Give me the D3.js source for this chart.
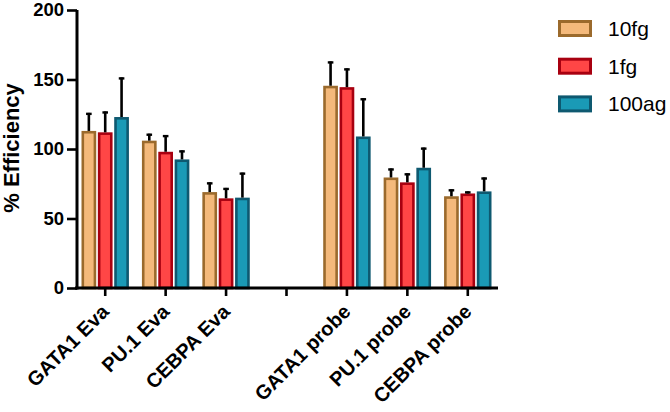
<!DOCTYPE html>
<html>
<head>
<meta charset="utf-8">
<script src="https://cdn.jsdelivr.net/npm/d3@7"></script>
<style>
  html, body { margin: 0; padding: 0; background: #fff; }
  svg { display: block; }
</style>
</head>
<body>
<svg id="chart" width="670" height="412"></svg>
<script>
const categories = ["GATA1 Eva", "PU.1 Eva", "CEBPA Eva", "", "GATA1 probe", "PU.1 probe", "CEBPA probe"];
const seriesNames = ["10fg", "1fg", "100ag"];
const mean10fg = [113, 106, 69, null, 145.5, 79.5, 66];
const err10fg  = [13, 5, 7, null, 17.5, 6.5, 5];
const mean1fg  = [112, 98, 64.5, null, 144.5, 76, 68];
const err1fg   = [15, 12, 7.5, null, 13.5, 6.5, 1.5];
const mean100ag = [123, 92.5, 65, null, 109, 86.5, 69.5];
const err100ag  = [28.5, 6.5, 18, null, 27.5, 14.5, 10];
const yTicks = [0, 50, 100, 150, 200];
const fills = ["#F4B97B", "#FF4646", "#1A9AB6"];
const strokes = ["#9B6A2C", "#A80010", "#0E5970"];

const means = [mean10fg, mean1fg, mean100ag];
const errs = [err10fg, err1fg, err100ag];

const svg = d3.select("#chart");
const font = "'Liberation Sans', Arial, sans-serif";

const x = d3.scaleBand().domain(categories).range([75, 498]).padding(0);
const y = d3.scaleLinear().domain([0, 200]).range([288, 10]);
const xs = d3.scaleBand().domain(seriesNames).range([6.5, x.bandwidth() - 6.5]).paddingInner(0.1);

// bars
const bw = 2.6;
seriesNames.forEach((s, si) => {
  const g = svg.append("g");
  categories.forEach((c, ci) => {
    const v = means[si][ci];
    if (v == null) return;
    const x0 = x(c) + xs(s);
    const w = xs.bandwidth();
    g.append("rect")
      .attr("x", x0 + bw / 2).attr("y", y(v) + bw / 2)
      .attr("width", w - bw).attr("height", y(0) - y(v) - bw / 2)
      .attr("fill", fills[si]).attr("stroke", strokes[si]).attr("stroke-width", bw);
    const e = errs[si][ci];
    const cx = x0 + w / 2;
    g.append("line")
      .attr("x1", cx).attr("x2", cx)
      .attr("y1", y(v)).attr("y2", y(v + e))
      .attr("stroke", "#000").attr("stroke-width", 2.6);
    g.append("line")
      .attr("x1", cx - 2.8).attr("x2", cx + 2.8)
      .attr("y1", y(v + e) + 1).attr("y2", y(v + e) + 1)
      .attr("stroke", "#000").attr("stroke-width", 2.4);
  });
});

// y axis
const yAxis = svg.append("g").attr("transform", "translate(77,0)")
  .call(d3.axisLeft(y).tickValues(yTicks).tickSize(10).tickPadding(3).tickFormat(d3.format("d")));
yAxis.select(".domain").attr("d", `M0,${y(200)}V${y(0) + 1.5}`).attr("stroke", "#000").attr("stroke-width", 3);
yAxis.selectAll(".tick line").attr("stroke", "#000").attr("stroke-width", 2.6);
yAxis.selectAll(".tick text").attr("font-family", font).attr("font-weight", "bold")
  .attr("font-size", "18.5px").attr("fill", "#000");

// x axis
const xAxis = svg.append("g").attr("transform", `translate(0,${y(0)})`)
  .call(d3.axisBottom(x).tickSize(8).tickPadding(4));
xAxis.select(".domain").attr("d", `M75,0H498`).attr("stroke", "#000").attr("stroke-width", 3);
xAxis.selectAll(".tick line").attr("stroke", "#000").attr("stroke-width", 2.6);
xAxis.selectAll(".tick text")
  .attr("font-family", font).attr("font-weight", "bold").attr("font-size", "20px").attr("fill", "#000")
  .attr("text-anchor", "end").attr("dy", "0").attr("y", 0)
  .attr("transform", "translate(5,25) rotate(-45)");

// y title
svg.append("text")
  .attr("transform", "translate(19,148) rotate(-90)")
  .attr("text-anchor", "middle")
  .attr("font-family", font).attr("font-weight", "bold").attr("font-size", "22px")
  .text("% Efficiency");

// legend
const leg = svg.append("g");
seriesNames.forEach((s, i) => {
  const cy = 28.5 + i * 37.7;
  leg.append("rect")
    .attr("x", 559.5).attr("y", cy - 7).attr("width", 31).attr("height", 14)
    .attr("fill", fills[i]).attr("stroke", strokes[i]).attr("stroke-width", 3);
  leg.append("text")
    .attr("x", 608).attr("y", cy + 7.5)
    .attr("font-family", font).attr("font-size", "21px").attr("fill", "#000")
    .text(s);
});
</script>
</body>
</html>
